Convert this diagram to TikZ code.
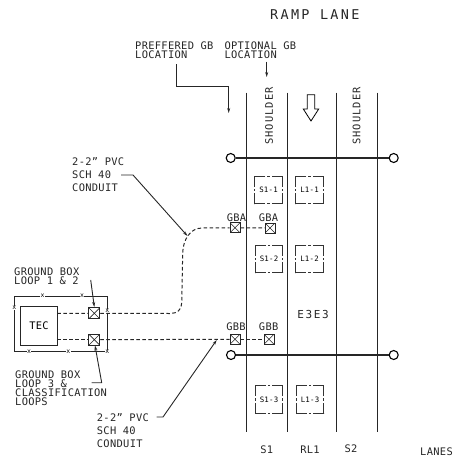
\documentclass[tikz,border=0pt]{standalone}
\usepackage{fontspec}
\setmainfont{DejaVu Sans Mono}[LetterSpace=3]
\usetikzlibrary{arrows.meta}
\tikzset{
 lbl/.style={inner sep=0pt,anchor=west,font=\fontsize{10.4}{11}\selectfont,text=black!85},
 lane/.style={line width=1pt,black!85},
 det/.style={draw=black!80,line width=0.9pt,minimum size=27.5pt,inner sep=0pt,dash pattern=on 10.5pt off 2.2pt on 2.1pt off 2.2pt on 10.5pt off 0pt,font=\fontsize{7.4}{9}\selectfont},
 pole/.style={circle,draw=black,line width=1.1pt,minimum size=9pt,inner sep=0pt},
 gbox/.style={draw=black!85,line width=0.9pt,minimum size=#1,inner sep=0pt,path picture={\draw[line width=0.6pt](path picture bounding box.south west)--(path picture bounding box.north east)(path picture bounding box.north west)--(path picture bounding box.south east);}},
 conduit/.style={line width=1pt,dash pattern=on 3.6pt off 2.4pt,black!85},
 lead/.style={line width=0.9pt,black!85},
 tip/.style={-{Stealth[length=5pt,width=3pt]}},
 xm/.style={inner sep=0.3pt,font=\fontsize{6.5}{6.5}\selectfont,fill=white},
 tight/.style={align=left,font=\fontsize{10.4}{9}\selectfont},
 loose/.style={align=left,font=\fontsize{10.4}{12.7}\selectfont},
}
\begin{document}
\begin{tikzpicture}[x=1pt,y=-1pt]
\useasboundingbox (0,0) rectangle (454,458);
% title
\node[lbl,font=\fontsize{13.5}{14}\selectfont\addfontfeature{LetterSpace=17}] (t) at (270,15) {RAMP LANE};
% lanes
\foreach \n/\x in {a/246.7,b/287.7,c/336,d/377}{
 \coordinate (\n t) at (\x,92.7); \coordinate (\n b) at (\x,431.7);
 \draw[lane] (\n t) -- (\n b);
}
% poles
\node[pole] (p1) at (230.7,158) {};
\node[pole] (p2) at (393.7,158) {};
\node[pole] (p3) at (231,355) {};
\node[pole] (p4) at (393.7,355) {};
\draw[line width=1.3pt,black!85] (p1) -- (p2);
\draw[line width=1.3pt,black!85] (p3) -- (p4);
% labels in lanes
\node[lbl,anchor=center,rotate=90,font=\fontsize{10.4}{11}\selectfont\addfontfeature{LetterSpace=10}] (sh1) at (269,116) {SHOULDER};
\node[lbl,anchor=center,rotate=90,font=\fontsize{10.4}{11}\selectfont\addfontfeature{LetterSpace=10}] (sh2) at (356.7,116) {SHOULDER};
% direction arrow
\draw[line width=0.8pt] (307.3,94.7) -- (307.3,109) -- (303.3,109) -- (311,121) -- (318.7,109) -- (314.7,109) -- (314.7,94.7) -- cycle;
% detectors
\node[det] (s11) at (268.5,190) {S1-1};
\node[det] (l11) at (309.5,190) {L1-1};
\node[det] (s12) at (269,259) {S1-2};
\node[det] (l12) at (309.5,259) {L1-2};
\node[det] (s13) at (269,399.5) {S1-3};
\node[det] (l13) at (310,399.5) {L1-3};
\node[lbl,anchor=center,font=\fontsize{11}{11}\selectfont\addfontfeature{LetterSpace=15}] (e) at (313,314) {E3E3};
% ground boxes
\node[gbox=10pt] (gba1) at (235,227.7) {};
\node[gbox=10pt] (gba2) at (270,228) {};
\node[gbox=10pt] (gbb1) at (235,339.3) {};
\node[gbox=10pt] (gbb2) at (269,339.3) {};
\node[lbl,anchor=center] (la1) at (236.5,217.7) {GBA};
\node[lbl,anchor=center] (la2) at (268.5,217.7) {GBA};
\node[lbl,anchor=center] (lb1) at (236,327) {GBB};
\node[lbl,anchor=center] (lb2) at (268.7,327) {GBB};
% TEC
\node[draw=black!85,line width=1.1pt,minimum width=36.6pt,minimum height=38.6pt,inner sep=0pt,font=\fontsize{10.4}{11}\selectfont] (tec) at (39,326) {TEC};
\node[gbox=11pt] (g1) at (94.3,313.3) {};
\node[gbox=11pt] (g2) at (94.3,339.7) {};
% enclosure
\draw[line width=0.9pt,black!85] (14.3,351.7) -- (14.3,296) -- (107.3,296) -- (107.3,351.7) -- cycle;
\foreach \x/\y in {42.7/296,82/296,14.3/308,107.3/310.7,107.3/351.7,29/351.7,68.3/351.7}
 \node[xm] at (\x,\y) {x};
% conduits
\draw[conduit] (57.3,313.5) -- (g1);
\draw[conduit] (g1) -- (170,313.5) .. controls (177,313.5) and (181.7,310) .. (181.7,303) -- (182.7,253) .. controls (183,240) and (190,228) .. (202,228) -- (gba1);
\draw[conduit] (gba1) -- (gba2);
\draw[conduit] (57.3,339.7) -- (g2);
\draw[conduit] (g2) -- (gbb1);
\draw[conduit] (gbb1) -- (gbb2);
% text and leaders
\node[lbl,tight] (n1) at (135,50.5) {PREFFERED GB\\LOCATION};
\node[lbl,tight] (n2) at (224.3,50.5) {OPTIONAL GB\\LOCATION};
\coordinate (n1a) at (176,64); \coordinate (n1b) at (176,86.3); \coordinate (n1c) at (228.7,86.3); \coordinate (n1d) at (228.7,113);
\draw[lead,tip] (n1a) -- (n1b) -- (n1c) -- (n1d);
\coordinate (n2a) at (266.7,61.7); \coordinate (n2b) at (266.7,77);
\draw[lead,tip] (n2a) -- (n2b);
\node[lbl,loose] (c1) at (72,174.5) {2-2" PVC\\SCH 40\\CONDUIT};
\coordinate (c1a) at (121,175); \coordinate (c1b) at (133,175); \coordinate (c1c) at (187.5,236);
\draw[lead,tip] (c1a) -- (c1b) -- (c1c);
\node[lbl,tight] (n3) at (14,276.2) {GROUND BOX\\LOOP 1 \& 2};
\coordinate (n3a) at (90.7,280); \coordinate (n3b) at (94.3,307);
\draw[lead,tip] (n3a) -- (n3b);
\node[lbl,tight] (n4) at (15,388.4) {GROUND BOX\\LOOP 3 \&\\CLASSIFICATION\\LOOPS};
\coordinate (n4a) at (91.7,382.7); \coordinate (n4b) at (101.7,382.7); \coordinate (n4c) at (95,345.5);
\draw[lead,tip] (n4a) -- (n4b) -- (n4c);
\node[lbl,loose] (c2) at (96.7,430.5) {2-2" PVC\\SCH 40\\CONDUIT};
\coordinate (c2a) at (156.7,417); \coordinate (c2b) at (163,417); \coordinate (c2c) at (216.7,340);
\draw[lead,tip] (c2a) -- (c2b) -- (c2c);
% lane names
\node[lbl,anchor=center] (s1) at (266.7,450) {S1};
\node[lbl,anchor=center] (rl) at (310,450) {RL1};
\node[lbl,anchor=center] (s2) at (351,449) {S2};
\node[lbl,anchor=center] (ln) at (436.5,452) {LANES};
\end{tikzpicture}
\end{document}
